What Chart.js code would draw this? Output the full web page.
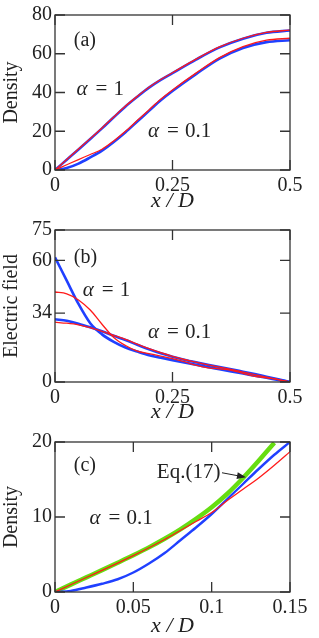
<!doctype html>
<html>
<head>
<meta charset="UTF-8">
<title>Density and electric field</title>
<script src="https://cdn.jsdelivr.net/npm/chart.js@4.4.0/dist/chart.umd.min.js"></script>
<style>
  body { margin: 0; background: #fff; font-family: "Liberation Serif", "DejaVu Serif", serif; }
  canvas { position: absolute; left: 0; }
</style>
</head>
<body>
<canvas id="ga" width="319" height="215" style="top:0px"></canvas>
<canvas id="gb" width="319" height="212" style="top:215px"></canvas>
<canvas id="gc" width="319" height="211" style="top:427px"></canvas>
<script>
// (a) density
var xsA = [0, 0.025, 0.05, 0.075, 0.1, 0.125, 0.15, 0.175, 0.2, 0.225, 0.25, 0.3, 0.35, 0.4, 0.45, 0.5];
var densA1Blue  = [0, 5.3, 10.6, 16, 21.5, 27.2, 32.8, 37.8, 42.5, 46.5, 50, 57, 63.3, 67.8, 70.8, 72];
var densA1Red   = [0, 5.4, 10.8, 16.2, 21.7, 27.4, 33, 38, 42.7, 46.7, 50.2, 57.2, 63.5, 68, 71, 72.2];
var densA01Blue = [0, 1, 3.3, 6.5, 10, 14.5, 19.5, 25, 30.5, 36, 40.8, 49.5, 57.5, 63, 66, 67];
var densA01Red  = [0, 2.7, 5.4, 8, 10.7, 15, 20, 25.5, 31, 36.5, 41.3, 50, 58, 63.7, 67, 68];

// (b) electric field
var xsB = [0, 0.025, 0.05, 0.075, 0.1, 0.125, 0.15, 0.175, 0.2, 0.225, 0.25, 0.275, 0.3, 0.325, 0.35, 0.375, 0.4, 0.425, 0.45, 0.475, 0.5];
var fieldB1Blue  = [61.5, 50, 38.5, 29, 23.5, 19.8, 17, 15, 13.2, 12, 10.8, 9.6, 8.5, 7.4, 6.3, 5.2, 4.2, 3.1, 2.1, 1, 0];
var fieldB1Red   = [44.4, 43.5, 40.5, 35.5, 28.5, 22, 18, 15.2, 14, 12.8, 11.5, 10, 8.3, 7, 6.5, 5.8, 4.3, 2.8, 2, 1.2, 0];
var fieldB01Blue = [31, 30.2, 28.8, 27, 25, 22.8, 20.7, 18.4, 16.2, 14.2, 12.5, 11, 9.7, 8.5, 7.4, 6.3, 5.1, 3.9, 2.6, 1.3, 0];
var fieldB01Red  = [29.5, 29, 28.2, 26.8, 25, 23, 21, 18.7, 16.5, 14.5, 12.7, 11.1, 9.8, 8.5, 7.3, 6.2, 4.9, 3.6, 2.4, 1.2, 0];

// (c) density near the wall, alpha = 0.1
var xsC = [0, 0.01, 0.02, 0.03, 0.04, 0.05, 0.06, 0.07, 0.08, 0.09, 0.1, 0.11, 0.12, 0.13, 0.14, 0.15];
var densC01Blue = [0, 0.15, 0.6, 1.1, 1.7, 2.6, 3.8, 5.2, 6.9, 8.6, 10.4, 12.4, 14.4, 16.4, 18.3, 20];
var densC01Red  = [0, 0.97, 1.93, 2.88, 3.85, 4.85, 5.9, 7.0, 8.2, 9.4, 10.6, 12.2, 13.7, 15.2, 16.9, 18.7];
var xsEq = [0, 0.01, 0.02, 0.03, 0.04, 0.05, 0.06, 0.07, 0.08, 0.09, 0.1, 0.11, 0.12, 0.13, 0.14];
var densEq17 = [0, 0.98, 1.95, 2.92, 3.9, 4.9, 5.95, 7.1, 8.35, 9.75, 11.3, 13.1, 15.2, 17.5, 19.9];

// tick labels
var xTicksAB = [0, 0.25, 0.5];
var xTicksC = [0, 0.05, 0.1, 0.15];
var yTicksA = [0, 20, 40, 60, 80];
var yTicksB = [0, 34, 60, 75];
var yTicksC = [0, 10, 20];

var BLUE = '#2040ff', RED = '#ff1a1a', GREEN = '#66dd11', INK = '#222';
var SERIF = "'Liberation Serif', 'DejaVu Serif', 'Times New Roman', Times, serif";

function pts(xs, ys) {
    return ys.map(function (y, i) { return { x: xs[i], y: y }; });
}

function serie(xs, ys, color, width) {
    return {
        data: pts(xs, ys),
        borderColor: color,
        borderWidth: width,
        pointRadius: 0,
        cubicInterpolationMode: 'monotone',
        fill: false
    };
}

// frame, inward ticks and the text notes
var moldura = {
    id: 'moldura',
    afterDatasetsDraw: function (chart, args, opts) {
        var ctx = chart.ctx, a = chart.chartArea;
        var sx = chart.scales.x, sy = chart.scales.y;
        ctx.save();
        ctx.strokeStyle = '#333';
        ctx.lineWidth = 1.3;
        ctx.beginPath();
        sx.ticks.forEach(function (t) {
            var p = sx.getPixelForValue(t.value);
            ctx.moveTo(p, a.bottom); ctx.lineTo(p, a.bottom - 10);
            ctx.moveTo(p, a.top); ctx.lineTo(p, a.top + 10);
        });
        sy.ticks.forEach(function (t) {
            var p = sy.getPixelForValue(t.value);
            ctx.moveTo(a.left, p); ctx.lineTo(a.left + 10, p);
            ctx.moveTo(a.right, p); ctx.lineTo(a.right - 10, p);
        });
        ctx.stroke();
        ctx.strokeRect(a.left, a.top, a.right - a.left, a.bottom - a.top);

        ctx.fillStyle = INK;
        ctx.textBaseline = 'middle';
        ctx.textAlign = 'left';
        (opts.notes || []).forEach(function (n) {
            var px = sx.getPixelForValue(n.x), py = sy.getPixelForValue(n.y);
            if (n.alpha !== undefined) {
                ctx.font = 'italic 21px ' + SERIF;
                ctx.fillText('α', px, py);
                ctx.font = '21px ' + SERIF;
                ctx.fillText('=', px + 19, py);
                ctx.fillText(n.alpha, px + 37, py);
            } else {
                ctx.font = (n.size || 20) + 'px ' + SERIF;
                ctx.fillText(n.text, px, py);
            }
        });

        if (opts.arrow) {
            var x1 = sx.getPixelForValue(opts.arrow[0]), y1 = sy.getPixelForValue(opts.arrow[1]);
            var x2 = sx.getPixelForValue(opts.arrow[2]), y2 = sy.getPixelForValue(opts.arrow[3]);
            var ang = Math.atan2(y2 - y1, x2 - x1);
            ctx.strokeStyle = INK;
            ctx.lineWidth = 1;
            ctx.beginPath();
            ctx.moveTo(x1, y1); ctx.lineTo(x2 - 6 * Math.cos(ang), y2 - 6 * Math.sin(ang));
            ctx.stroke();
            ctx.beginPath();
            ctx.moveTo(x2, y2);
            ctx.lineTo(x2 - 9 * Math.cos(ang) + 3.5 * Math.sin(ang), y2 - 9 * Math.sin(ang) - 3.5 * Math.cos(ang));
            ctx.lineTo(x2 - 9 * Math.cos(ang) - 3.5 * Math.sin(ang), y2 - 9 * Math.sin(ang) + 3.5 * Math.cos(ang));
            ctx.closePath();
            ctx.fill();
        }
        ctx.restore();
    }
};

function plota(id, cfg) {
    return new Chart(document.getElementById(id), {
        type: 'line',
        data: { datasets: cfg.datasets },
        options: {
            responsive: false,
            animation: false,
            font: { family: SERIF },
            layout: { padding: { top: cfg.top, right: 29, left: 0, bottom: 0 } },
            plugins: {
                legend: { display: false },
                tooltip: { enabled: false },
                moldura: { notes: cfg.notes, arrow: cfg.arrow }
            },
            scales: {
                x: {
                    type: 'linear',
                    min: cfg.xMin, max: cfg.xMax,
                    grid: { display: false, drawTicks: false },
                    border: { display: false },
                    afterBuildTicks: function (s) { s.ticks = cfg.xTicks.map(function (v) { return { value: v }; }); },
                    afterFit: function (s) { s.height = cfg.xHeight; },
                    ticks: { padding: 4, maxRotation: 0, autoSkip: false, color: INK,
                             font: { family: SERIF, size: 20 },
                             callback: function (v) { return String(v); } },
                    title: { display: true, text: 'x / D', color: INK,
                             font: { family: SERIF, style: 'italic', size: 22, lineHeight: 1.1 },
                             padding: { top: 0, bottom: cfg.titlePad } }
                },
                y: {
                    min: cfg.yMin, max: cfg.yMax,
                    grid: { display: false, drawTicks: false },
                    border: { display: false },
                    afterBuildTicks: function (s) { s.ticks = cfg.yTicks.map(function (v) { return { value: v }; }); },
                    afterFit: function (s) { s.width = 55; },
                    ticks: { padding: 3, autoSkip: false, color: INK,
                             font: { family: SERIF, size: 20 },
                             callback: function (v) { return String(v); } },
                    title: { display: true, text: cfg.yTitle, color: INK,
                             font: { family: SERIF, size: 20 },
                             padding: { top: 0, bottom: 0 } }
                }
            }
        },
        plugins: [moldura]
    });
}

// first dataset is painted on top, so the thin red ones go first
function desenha() {
    plota('ga', {
        top: 14, xHeight: 45, titlePad: 2,
        xMin: 0, xMax: 0.5, xTicks: xTicksAB,
        yMin: 0, yMax: 80, yTicks: yTicksA, yTitle: 'Density',
        datasets: [
            serie(xsA, densA1Red, RED, 1.3),
            serie(xsA, densA01Red, RED, 1.3),
            serie(xsA, densA1Blue, BLUE, 2.6),
            serie(xsA, densA01Blue, BLUE, 2.6)
        ],
        notes: [
            { x: 0.04, y: 66.8, text: '(a)' },
            { x: 0.046, y: 41.6, alpha: '1' },
            { x: 0.198, y: 20, alpha: '0.1' }
        ]
    });

    plota('gb', {
        top: 14, xHeight: 45, titlePad: 3,
        xMin: 0, xMax: 0.5, xTicks: xTicksAB,
        yMin: 0, yMax: 75, yTicks: yTicksB, yTitle: 'Electric field',
        datasets: [
            serie(xsB, fieldB1Red, RED, 1.3),
            serie(xsB, fieldB01Red, RED, 1.3),
            serie(xsB, fieldB1Blue, BLUE, 2.6),
            serie(xsB, fieldB01Blue, BLUE, 2.6)
        ],
        notes: [
            { x: 0.04, y: 61.4, text: '(b)' },
            { x: 0.059, y: 45.2, alpha: '1' },
            { x: 0.198, y: 24.2, alpha: '0.1' }
        ]
    });

    plota('gc', {
        top: 8, xHeight: 46, titlePad: 0,
        xMin: 0, xMax: 0.15, xTicks: xTicksC,
        yMin: 0, yMax: 20, yTicks: yTicksC, yTitle: 'Density',
        datasets: [
            serie(xsC, densC01Red, RED, 1.3),
            serie(xsC, densC01Blue, BLUE, 2.4),
            serie(xsEq, densEq17, GREEN, 4.5)
        ],
        notes: [
            { x: 0.012, y: 16.8, text: '(c)' },
            { x: 0.022, y: 9.8, alpha: '0.1' },
            { x: 0.065, y: 16.0, text: 'Eq.(17)', size: 21 }
        ],
        arrow: [0.1066, 15.9, 0.1219, 15.3]
    });
}

desenha();
</script>
</body>
</html>
